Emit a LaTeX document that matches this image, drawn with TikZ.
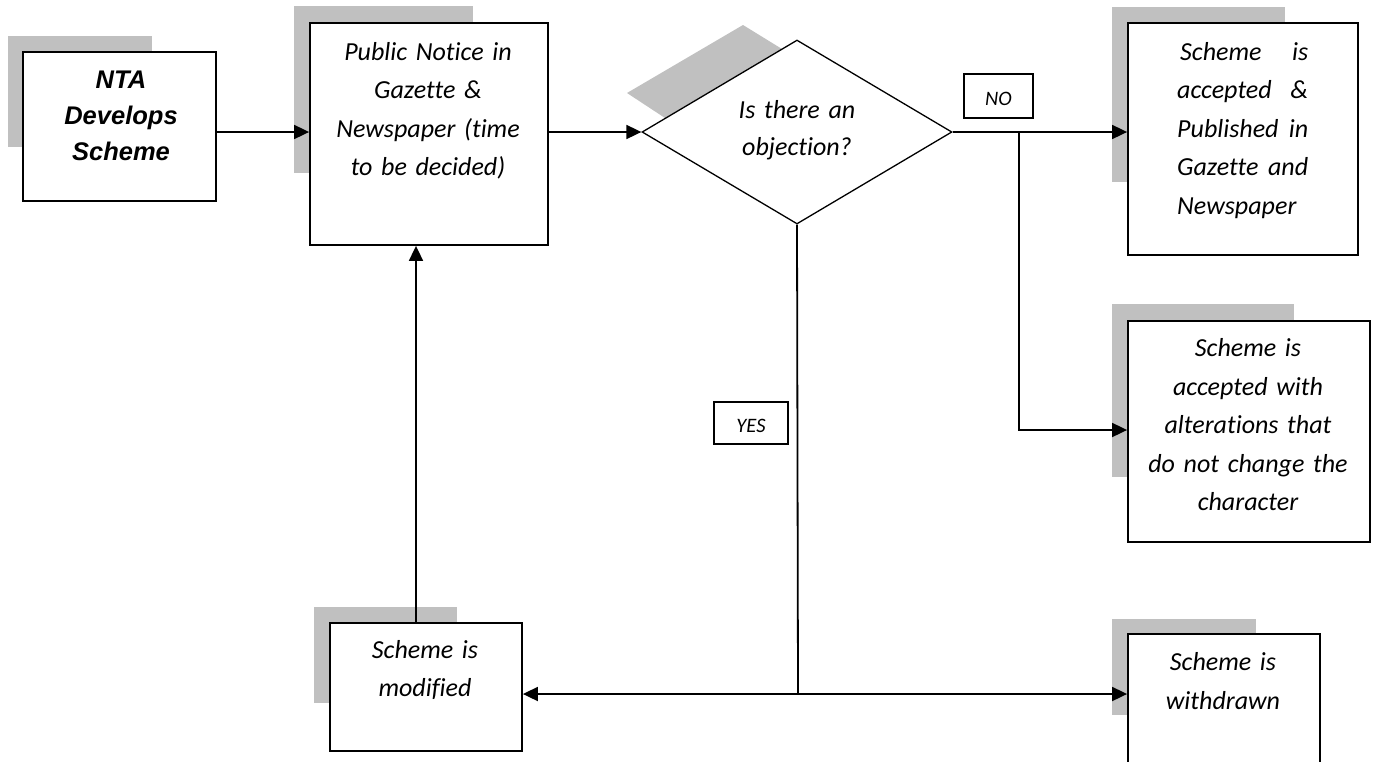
\documentclass[tikz,border=0pt]{standalone}
\usepackage{fontspec}
\setmainfont{Carlito}[Ligatures=NoCommon]
\newfontfamily\arialfont{Liberation Sans}
\usetikzlibrary{arrows.meta,shapes.geometric}
\definecolor{shadowgrey}{RGB}{192,192,192}
% one justified line of the given width
\newcommand\jline[1]{\leavevmode\hbox to 131pt{#1}}

\begin{document}
\begin{tikzpicture}[x=1pt,y=-1pt,
  box/.style={draw=black, line width=1.8pt, fill=white, rectangle, inner sep=0pt},
  tag/.style={draw=black, line width=1.1pt, fill=white, inner sep=0pt,
    text height=18pt, text depth=0pt, font=\fontsize{20.5}{24}\selectfont\itshape},
  txt/.style={inner sep=0pt, align=center, anchor=base,
    font=\fontsize{26}{38.5}\selectfont\itshape},
  arr/.style={line width=1.8pt, -{Triangle[length=15pt,width=14pt]}},
  link/.style={line width=1.8pt},
  drop/.style={fill=shadowgrey, draw=none}]

\useasboundingbox (0,0) rectangle (1374,761);
\clip (0,0) rectangle (1374,761);

% grey drop shadows behind the shapes
\path[drop] (8,36) rectangle (152,147);
\path[drop] (294,6) rectangle (473,173);
\path[drop] (627,93) -- (743,25) -- (782,49) -- (665,118) -- cycle;
\path[drop] (1112,7) rectangle (1285,182);
\path[drop] (1112,304) rectangle (1294,477);
\path[drop] (314,607) rectangle (457,703);
\path[drop] (1112,619) rectangle (1256,715);

% shapes
\node[box, minimum width=193pt, minimum height=149pt] (b1) at (119.5,126.5) {};
\node[box, minimum width=238pt, minimum height=222pt] (b2) at (429,134) {};
\node[draw=black, diamond, line width=1.3pt, fill=white, inner sep=0pt,
      minimum width=310pt, minimum height=184pt] (d) at (797,132) {};
\node[box, minimum width=230pt, minimum height=232pt] (b3) at (1243,139) {};
\node[box, minimum width=242pt, minimum height=221pt] (b4) at (1249,431.5) {};
\node[box, minimum width=192pt, minimum height=128pt] (b5) at (426,687) {};
\node[box, minimum width=192pt, minimum height=156pt] (b6) at (1224,712) {};
\node[tag, minimum width=69pt, minimum height=44pt] (no) at (998.5,96) {NO};
\node[tag, minimum width=74pt, minimum height=42pt] (yes) at (751,423) {YES};

% junction points of the connectors
\coordinate (j1) at (1019,132);
\coordinate (j2) at (1019,430);
\coordinate (j3) at (798,694);
\coordinate (upx) at (416,0);

% connectors
\draw[arr] (b1.east |- d.west) -- (b2.west |- d.west);
\draw[arr] (b2.east |- d.west) -- (d.west);
\draw[arr] (d.east) -- (b3.west |- d.east);
\draw[arr] (j1) -- (j2) -- (b4.west |- j2);
\draw[link] (d.south) -- (j3);
\draw[arr] (j3) -- (b5.east |- j3);
\draw[arr] (j3) -- (b6.west |- j3);
\draw[arr] (b5.north -| upx) -- (b2.south -| upx);

% texts
\node[txt, text width=193pt, font=\arialfont\bfseries\itshape\fontsize{25.5}{36}\selectfont]
  (t1) at (121,88.5) {NTA\\Develops\\Scheme};
\node[txt, text width=238pt] (t2) at (428,60)
  {Public Notice in\\Gazette \&\\Newspaper (time\\to be decided)};
\node[txt, text width=250pt, font=\fontsize{26}{37}\selectfont\itshape] (td) at (797,118)
  {Is there an\\objection?};
\node[txt, text width=131pt, align=left, anchor=base west] (t3) at (1177,60)
  {\jline{\hspace{3pt}Scheme\hfill is}\\
   \jline{accepted\hfill\&}\\
   \jline{Published\hfill in}\\
   \jline{Gazette\hfill and}\\
   \jline{Newspaper\hfill}};
\node[txt, text width=242pt] (t4) at (1248,356.7)
  {Scheme is\\accepted with\\alterations that\\do not change the\\character};
\node[txt, text width=192pt] (t5) at (425,658) {Scheme is\\modified};
\node[txt, text width=192pt] (t6) at (1223,670.7) {Scheme is\\withdrawn};
\end{tikzpicture}
\end{document}
